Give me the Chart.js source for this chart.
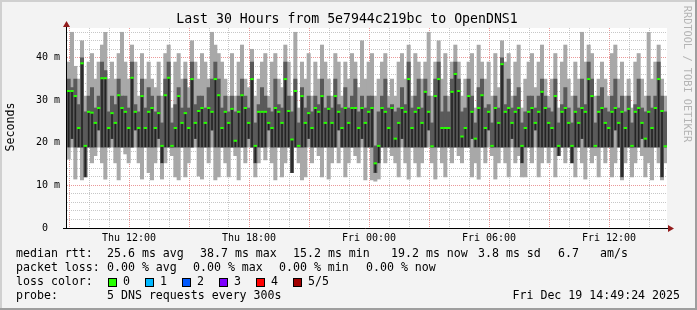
<!DOCTYPE html>
<html>
<head>
<meta charset="utf-8">
<script src="https://cdn.jsdelivr.net/npm/chart.js@4.4.1/dist/chart.umd.min.js"></script>
<style>
  html, body { margin: 0; padding: 0; background: #f3f3f3; }
  canvas { display: block; }
</style>
</head>
<body>
<canvas id="smoke" width="697" height="310"></canvas>
<script>
// time axis: hours counted from Thu 00:00, one sample every 10 minutes
var startHour = 8.9;
var stepHour = 1 / 6;
var spanHours = 30;

var labelHours = [12, 18, 24, 30, 36];
var timeLabels = ['Thu 12:00', 'Thu 18:00', 'Fri 00:00', 'Fri 06:00', 'Fri 12:00'];
var yLabelValues = [0, 10, 20, 30, 40];
var yLabels = ['0  ', '10 m', '20 m', '30 m', '40 m'];

// median rtt (ms)
var medianRtt = [
  32.2, 32.2, 31.0, 23.5, 38.7, 19.3, 27.3, 27.1, 24.7, 28.2,
  35.2, 35.2, 23.5, 27.0, 24.7, 31.2, 28.2, 27.3, 23.5, 35.3,
  27.3, 23.5, 31.0, 23.5, 27.3, 28.2, 23.5, 27.0, 19.3, 31.2,
  35.3, 19.3, 23.5, 31.0, 24.7, 27.0, 23.5, 35.0, 24.7, 27.5,
  28.2, 24.7, 28.2, 27.3, 35.0, 31.2, 23.5, 27.3, 24.7, 28.0,
  20.5, 27.3, 31.2, 28.2, 24.7, 35.0, 19.3, 27.3, 27.3, 27.3,
  24.7, 23.5, 28.2, 27.3, 24.7, 35.0, 27.5, 20.8, 32.2, 19.3,
  31.0, 24.7, 27.0, 23.5, 28.2, 27.3, 31.0, 24.7, 28.0, 24.7,
  31.0, 27.3, 23.5, 28.2, 24.7, 28.2, 28.2, 23.5, 28.2, 24.7,
  27.3, 28.2, 15.2, 19.3, 28.2, 27.3, 23.5, 28.2, 21.0, 24.7,
  28.2, 27.3, 35.0, 23.5, 27.3, 28.2, 24.7, 32.0, 27.3, 19.2,
  31.0, 35.0, 23.5, 23.5, 23.5, 32.0, 36.2, 32.2, 21.5, 23.5,
  31.0, 27.3, 21.0, 28.2, 31.2, 23.5, 27.3, 19.3, 28.2, 24.7,
  38.5, 27.3, 28.2, 24.7, 27.3, 28.2, 19.3, 23.5, 27.3, 28.2,
  24.7, 27.3, 32.0, 28.2, 24.7, 23.5, 31.0, 19.3, 27.3, 28.2,
  24.7, 19.3, 27.3, 24.7, 28.2, 27.3, 35.0, 31.0, 19.3, 27.3,
  28.2, 24.7, 23.5, 27.3, 28.2, 24.7, 27.3, 23.5, 28.0, 19.3,
  27.3, 28.2, 24.7, 21.0, 27.3, 23.5, 28.2, 35.0, 27.5, 19.2
];

// fastest of the 5 requests
var pingMin = [
  16.2, 19.0, 11.5, 19.0, 11.3, 12.0, 19.0, 15.3, 17.0, 19.0,
  15.3, 11.5, 19.0, 19.0, 15.3, 11.3, 19.0, 17.4, 15.3, 19.0,
  19.0, 15.3, 11.5, 19.0, 13.0, 11.3, 15.3, 19.0, 11.5, 15.3,
  19.0, 17.0, 12.0, 11.3, 19.0, 12.0, 15.3, 19.0, 19.0, 12.2,
  11.5, 19.0, 15.3, 19.0, 11.3, 12.0, 19.0, 15.3, 12.0, 19.0,
  17.0, 11.3, 19.0, 15.3, 19.0, 19.0, 12.0, 15.3, 19.0, 16.0,
  19.0, 15.3, 11.3, 19.0, 12.0, 15.3, 19.0, 13.0, 19.0, 15.3,
  11.3, 12.0, 19.0, 15.3, 19.0, 17.0, 12.0, 19.0, 11.5, 15.3,
  19.0, 15.3, 19.0, 12.0, 15.3, 19.0, 17.0, 15.3, 19.0, 11.3,
  19.0, 11.3, 11.0, 11.5, 19.0, 15.3, 19.0, 17.0, 15.3, 12.0,
  19.0, 15.3, 11.5, 19.0, 15.3, 12.0, 15.3, 19.0, 19.0, 15.3,
  11.5, 19.0, 15.3, 12.0, 19.0, 15.3, 19.0, 17.0, 15.3, 19.0,
  19.0, 12.0, 15.3, 11.5, 19.0, 15.3, 19.0, 17.0, 11.5, 15.3,
  19.0, 15.3, 12.0, 19.0, 15.3, 17.0, 12.0, 12.0, 19.0, 15.3,
  19.0, 12.0, 15.3, 19.0, 15.3, 19.0, 12.0, 17.0, 19.0, 15.3,
  19.0, 15.3, 12.0, 19.0, 15.3, 11.5, 19.0, 15.3, 17.0, 12.0,
  19.0, 15.3, 19.0, 12.0, 15.3, 19.0, 11.3, 15.3, 19.0, 12.0,
  15.3, 19.0, 17.0, 12.0, 15.3, 11.3, 19.0, 15.3, 11.3, 15.3
];

// second fastest
var pingLow = [
  19.0, 21.0, 19.0, 19.0, 19.0, 12.0, 19.0, 19.0, 19.0, 23.0,
  19.0, 19.0, 19.0, 21.0, 19.0, 19.0, 19.0, 19.0, 19.0, 19.0,
  23.0, 19.0, 19.0, 19.0, 19.0, 19.0, 19.0, 21.0, 15.3, 19.0,
  19.0, 19.0, 19.0, 19.0, 19.0, 19.0, 19.0, 19.0, 21.0, 19.0,
  19.0, 19.0, 19.0, 23.0, 19.0, 19.0, 19.0, 19.0, 19.0, 19.0,
  19.0, 19.0, 19.0, 19.0, 21.0, 19.0, 15.3, 19.0, 19.0, 19.0,
  23.0, 19.0, 19.0, 19.0, 19.0, 19.0, 19.0, 13.0, 19.0, 19.0,
  19.0, 19.0, 21.0, 19.0, 19.0, 19.0, 19.0, 19.0, 19.0, 19.0,
  19.0, 23.0, 19.0, 19.0, 19.0, 19.0, 19.0, 19.0, 21.0, 19.0,
  19.0, 19.0, 13.0, 15.3, 19.0, 19.0, 19.0, 19.0, 19.0, 19.0,
  21.0, 19.0, 19.0, 19.0, 19.0, 19.0, 19.0, 19.0, 23.0, 19.0,
  19.0, 19.0, 19.0, 19.0, 19.0, 19.0, 19.0, 19.0, 19.0, 19.0,
  19.0, 21.0, 19.0, 19.0, 19.0, 19.0, 23.0, 19.0, 19.0, 19.0,
  19.0, 19.0, 19.0, 21.0, 19.0, 19.0, 15.3, 19.0, 19.0, 19.0,
  23.0, 19.0, 19.0, 19.0, 19.0, 19.0, 19.0, 17.0, 19.0, 19.0,
  19.0, 15.3, 19.0, 19.0, 21.0, 19.0, 19.0, 19.0, 19.0, 19.0,
  19.0, 19.0, 19.0, 19.0, 23.0, 19.0, 12.0, 19.0, 19.0, 19.0,
  19.0, 19.0, 21.0, 19.0, 19.0, 19.0, 19.0, 19.0, 12.0, 19.0
];

// second slowest
var pingHigh = [
  35.0, 33.0, 35.0, 29.0, 40.0, 27.3, 31.0, 33.0, 28.2, 31.0,
  39.0, 37.0, 27.3, 31.0, 29.0, 35.0, 31.0, 31.0, 28.2, 39.0,
  29.0, 27.3, 35.0, 28.2, 33.0, 31.0, 27.3, 31.0, 24.7, 35.0,
  39.0, 24.7, 29.0, 33.0, 28.2, 35.0, 28.2, 39.0, 29.0, 31.0,
  31.0, 28.2, 33.0, 35.0, 39.0, 35.0, 28.2, 31.0, 27.3, 31.0,
  27.3, 31.0, 35.0, 31.0, 28.2, 39.0, 24.7, 29.0, 33.0, 31.0,
  28.2, 27.3, 35.0, 29.0, 28.2, 39.0, 31.0, 27.3, 35.0, 24.7,
  33.0, 28.2, 31.0, 27.3, 31.0, 29.0, 35.0, 28.2, 31.0, 28.2,
  35.0, 29.0, 28.2, 33.0, 28.2, 31.0, 35.0, 27.3, 31.0, 28.2,
  31.0, 31.0, 19.3, 27.3, 31.0, 35.0, 28.2, 29.0, 27.3, 28.2,
  33.0, 29.0, 39.0, 28.2, 31.0, 35.0, 28.2, 35.0, 31.0, 24.7,
  35.0, 39.0, 27.3, 31.0, 27.3, 35.0, 39.0, 35.0, 27.3, 28.2,
  35.0, 31.0, 24.7, 33.0, 35.0, 28.2, 29.0, 24.7, 31.0, 28.2,
  40.0, 29.0, 35.0, 28.2, 31.0, 33.0, 24.7, 27.3, 31.0, 31.0,
  28.2, 31.0, 35.0, 31.0, 28.2, 27.3, 35.0, 24.7, 29.0, 33.0,
  28.2, 24.7, 31.0, 28.2, 35.0, 29.0, 39.0, 35.0, 24.7, 31.0,
  33.0, 28.2, 27.3, 31.0, 35.0, 28.2, 31.0, 27.3, 31.0, 24.7,
  29.0, 35.0, 28.2, 27.3, 31.0, 28.2, 31.0, 39.0, 31.0, 27.3
];

// slowest of the 5 requests
var pingMax = [
  39.0, 46.0, 38.0, 35.0, 44.0, 31.0, 39.0, 41.0, 35.0, 39.0,
  43.0, 46.0, 35.0, 39.0, 35.0, 41.0, 46.0, 39.0, 35.0, 43.0,
  39.0, 31.0, 41.0, 35.0, 39.0, 35.0, 33.0, 39.0, 31.0, 41.0,
  43.0, 28.2, 39.0, 41.0, 35.0, 39.0, 33.0, 44.0, 39.0, 35.0,
  41.0, 39.0, 35.0, 46.0, 43.0, 41.0, 39.0, 35.0, 31.0, 41.0,
  31.0, 39.0, 43.0, 35.0, 33.0, 42.0, 31.0, 35.0, 39.0, 41.0,
  31.0, 39.0, 41.0, 35.0, 33.0, 43.0, 39.0, 31.0, 46.0, 28.2,
  39.0, 35.0, 41.0, 31.0, 39.0, 35.0, 43.0, 39.0, 35.0, 31.0,
  41.0, 39.0, 31.0, 39.0, 35.0, 41.0, 39.0, 33.0, 44.0, 35.0,
  39.0, 41.0, 31.0, 35.0, 39.0, 41.0, 31.0, 35.0, 31.0, 39.0,
  41.0, 35.0, 43.0, 31.0, 41.0, 39.0, 35.0, 39.0, 46.0, 31.0,
  39.0, 44.0, 35.0, 41.0, 31.0, 39.0, 43.0, 39.0, 31.0, 35.0,
  39.0, 41.0, 28.2, 43.0, 39.0, 35.0, 39.0, 31.0, 41.0, 33.0,
  44.0, 39.0, 41.0, 31.0, 39.0, 43.0, 28.2, 35.0, 39.0, 41.0,
  33.0, 39.0, 43.0, 35.0, 31.0, 35.0, 41.0, 28.2, 39.0, 43.0,
  35.0, 31.0, 39.0, 35.0, 46.0, 39.0, 43.0, 41.0, 31.0, 35.0,
  39.0, 35.0, 31.0, 41.0, 43.0, 35.0, 39.0, 31.0, 35.0, 28.2,
  39.0, 41.0, 35.0, 31.0, 46.0, 35.0, 39.0, 43.0, 35.0, 31.0
];

var legendRows = [
  ['median rtt:', 16, '25.6 ms avg', 107, '38.7 ms max', 200, '15.2 ms min', 293, '19.2 ms now', 391, '3.8 ms sd', 478, '6.7', 558, 'am/s', 600],
  ['packet loss:', 16, '0.00 % avg', 107, '0.00 % max', 193, '0.00 % min', 279, '0.00 % now', 366],
  ['loss color:', 16],
  ['probe:', 16, '5 DNS requests every 300s', 107]
];
var lossLabels = ['0', '1', '2', '3', '4', '5/5'];
var lossColors = ['#26ff00', '#00b8ff', '#0059ff', '#7e00ff', '#ff0000', '#a10000'];

var mono = 'DejaVu Sans Mono';
var minorGrid = 'rgba(185,185,185,0.8)';
var majorGrid = 'rgba(225,110,110,0.7)';
var arrowRed = '#931c1c';

function xAt(i) { return startHour + (i + 0.5) * stepHour; }
function band(lo, hi) {
  return lo.map(function (v, i) { return { x: xAt(i), y: [v, hi[i]] }; });
}

var gridHours = [];
for (var h = Math.ceil(startHour); h <= startHour + spanHours; h++) gridHours.push(h);
var gridMs = [];
for (var m = 0; m <= 46; m += 2) gridMs.push(m);

var rrdFrame = {
  id: 'rrdFrame',
  beforeDraw: function (chart) {
    var ctx = chart.ctx, a = chart.chartArea;
    ctx.save();
    ctx.fillStyle = '#f3f3f3';
    ctx.fillRect(0, 0, chart.width, chart.height);
    ctx.fillStyle = '#ffffff';
    ctx.fillRect(a.left, a.top, a.right - a.left, a.bottom - a.top);
    ctx.restore();
  },
  afterDatasetsDraw: function (chart) {
    var ctx = chart.ctx, a = chart.chartArea;
    ctx.save();
    ctx.strokeStyle = '#000';
    ctx.lineWidth = 1;
    ctx.beginPath();
    ctx.moveTo(a.left - 4, a.bottom + 0.5);
    ctx.lineTo(a.right + 1, a.bottom + 0.5);
    ctx.moveTo(a.left - 0.5, a.bottom + 1);
    ctx.lineTo(a.left - 0.5, a.top - 2);
    ctx.stroke();
    ctx.fillStyle = arrowRed;
    ctx.beginPath();
    ctx.moveTo(a.left - 4, a.top - 1);
    ctx.lineTo(a.left + 3, a.top - 1);
    ctx.lineTo(a.left - 0.5, a.top - 7);
    ctx.closePath();
    ctx.fill();
    ctx.beginPath();
    ctx.moveTo(a.right + 1, a.bottom - 3);
    ctx.lineTo(a.right + 1, a.bottom + 4);
    ctx.lineTo(a.right + 7, a.bottom + 0.5);
    ctx.closePath();
    ctx.fill();
    ctx.restore();
  },
  afterDraw: function (chart) {
    var ctx = chart.ctx, W = chart.width, H = chart.height;
    ctx.save();
    ctx.fillStyle = '#000';
    ctx.textBaseline = 'middle';

    ctx.font = '13.2px "' + mono + '"';
    ctx.textAlign = 'center';
    ctx.fillText('Last 30 Hours from 5e7944c219bc to OpenDNS1', 347, 19.5);

    ctx.font = '11.6px "' + mono + '"';
    ctx.save();
    ctx.translate(11, 127);
    ctx.rotate(-Math.PI / 2);
    ctx.fillText('Seconds', 0, 0);
    ctx.restore();

    ctx.save();
    ctx.fillStyle = '#b4b4b4';
    ctx.font = '10.3px "' + mono + '"';
    ctx.translate(687, 74);
    ctx.rotate(Math.PI / 2);
    ctx.fillText('RRDTOOL / TOBI OETIKER', 0, 0);
    ctx.restore();

    ctx.font = '11.6px "' + mono + '"';
    ctx.textAlign = 'left';
    legendRows.forEach(function (row, r) {
      var y = 254 + r * 14;
      for (var k = 0; k < row.length; k += 2) ctx.fillText(row[k], row[k + 1], y);
    });
    lossLabels.forEach(function (lab, k) {
      var bx = 108 + k * 37;
      ctx.fillStyle = lossColors[k];
      ctx.fillRect(bx, 278, 8, 8);
      ctx.strokeStyle = '#000';
      ctx.lineWidth = 1;
      ctx.strokeRect(bx + 0.5, 278.5, 8, 8);
      ctx.fillStyle = '#000';
      ctx.fillText(lab, bx + 15, 282);
    });
    ctx.textAlign = 'right';
    ctx.fillText('Fri Dec 19 14:49:24 2025', 680, 296);

    ctx.fillStyle = '#d0d0d0';
    ctx.fillRect(0, 0, W, 2);
    ctx.fillRect(0, 0, 2, H);
    ctx.fillStyle = '#9e9e9e';
    ctx.fillRect(0, H - 2, W, 2);
    ctx.fillRect(W - 2, 0, 2, H);
    ctx.restore();
  }
};

var barCommon = { type: 'bar', grouped: false, barPercentage: 1, categoryPercentage: 1, borderWidth: 0 };

new Chart(document.getElementById('smoke'), {
  type: 'bar',
  data: {
    datasets: [
      {
        type: 'line',
        label: 'median rtt',
        data: medianRtt.map(function (v, i) { return { x: xAt(i), y: v }; }),
        showLine: false,
        pointStyle: 'line',
        pointRadius: 1.7,
        pointBorderWidth: 2,
        borderColor: lossColors[0],
        pointBorderColor: lossColors[0],
        order: 0
      },
      Object.assign({}, barCommon, { label: 'below median', data: band(pingLow, medianRtt), backgroundColor: '#242424', barPercentage: 0.5, order: 1 }),
      Object.assign({}, barCommon, { label: 'inner smoke', data: band(pingLow, pingHigh), backgroundColor: '#5a5a5a', order: 2 }),
      Object.assign({}, barCommon, { label: 'outer smoke', data: band(pingMin, pingMax), backgroundColor: '#a8a8a8', order: 3 })
    ]
  },
  options: {
    responsive: false,
    devicePixelRatio: 1,
    animation: false,
    events: [],
    layout: { padding: { left: 0, right: 30, top: 28, bottom: 0 } },
    plugins: { legend: { display: false }, tooltip: { enabled: false } },
    scales: {
      x: {
        type: 'linear',
        min: startHour,
        max: startHour + spanHours,
        offset: false,
        afterBuildTicks: function (s) { s.ticks = gridHours.map(function (v) { return { value: v }; }); },
        afterFit: function (s) { s.height = 82; },
        grid: {
          offset: false,
          drawTicks: false,
          color: function (c) { return c.tick && c.tick.value % 3 === 0 ? majorGrid : minorGrid; }
        },
        border: { display: false, dash: [1, 1] },
        ticks: {
          autoSkip: false,
          maxRotation: 0,
          padding: 4,
          color: '#000',
          font: { family: mono, size: 10 },
          callback: function (v) { var k = labelHours.indexOf(v); return k < 0 ? '' : timeLabels[k]; }
        }
      },
      y: {
        type: 'linear',
        min: 0,
        max: 47,
        afterBuildTicks: function (s) { s.ticks = gridMs.map(function (v) { return { value: v }; }); },
        afterFit: function (s) { s.width = 67; },
        grid: {
          drawTicks: false,
          color: function (c) { return c.tick && c.tick.value % 10 === 0 ? majorGrid : minorGrid; }
        },
        border: { display: false, dash: [1, 1] },
        ticks: {
          autoSkip: false,
          padding: 7,
          color: '#000',
          font: { family: mono, size: 10 },
          callback: function (v) { var k = yLabelValues.indexOf(v); return k < 0 ? '' : yLabels[k]; }
        }
      }
    }
  },
  plugins: [rrdFrame]
});
</script>
</body>
</html>
